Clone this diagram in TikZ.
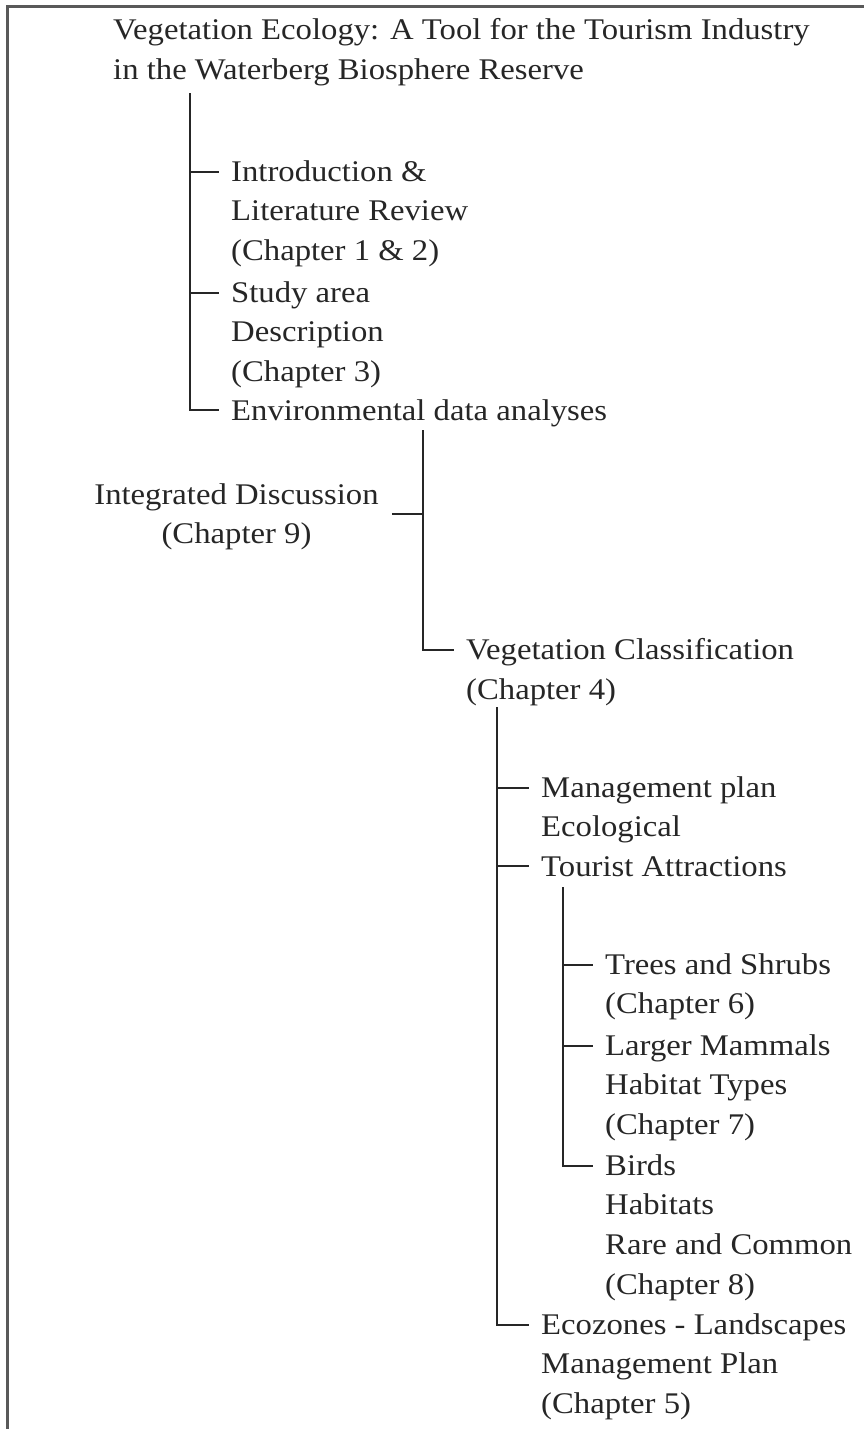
\documentclass[tikz,border=0pt]{standalone}
\usepackage{fontspec}
\newfontfamily\vegefont[FakeStretch=1.09]{Liberation Serif}
\usetikzlibrary{calc}
\tikzset{
    entry/.style={anchor=north west,inner sep=0pt,align=left,text=black!85,
        font=\vegefont\fontsize{30}{39.7}\selectfont,
        execute at begin node={\rule{0pt}{22pt}}},
    branch/.style={draw=black!85,line width=1.8pt},
}
\begin{document}
\begin{tikzpicture}[x=1pt,y=1pt]
    \useasboundingbox (0,0) rectangle (864,-1429);
    \draw[draw=black!65,line width=3pt] (7,-1429) -- (7,-7) -- (864,-7);

    \node[entry] (title) at (113,-18) {Vegetation Ecology: A Tool for the Tourism Industry\\in the Waterberg Biosphere Reserve};
    \node[entry] (intro) at (231,-160) {Introduction \&\\Literature Review\\(Chapter 1 \& 2)};
    \node[entry] (study) at (231,-281) {Study area\\Description\\(Chapter 3)};
    \node[entry] (env) at (231,-398) {Environmental data analyses};
    \node[entry,anchor=north,align=center] (integ) at (236.5,-483) {Integrated Discussion\\(Chapter 9)};
    \node[entry] (veg) at (466,-638) {Vegetation Classification\\(Chapter 4)};
    \node[entry] (mgmt) at (541,-776) {Management plan\\Ecological};
    \node[entry] (tour) at (541,-854) {Tourist Attractions};
    \node[entry] (trees) at (605,-953) {Trees and Shrubs\\(Chapter 6)};
    \node[entry] (mammals) at (605,-1034) {Larger Mammals\\Habitat Types\\(Chapter 7)};
    \node[entry] (birds) at (605,-1154) {Birds\\Habitats\\Rare and Common\\(Chapter 8)};
    \node[entry] (eco) at (541,-1313) {Ecozones - Landscapes\\Management Plan\\(Chapter 5)};

    \coordinate (t1) at ($(title.north west)+(77,-75)$);
    \coordinate (t2) at ($(env.north west)+(192,-32)$);
    \coordinate (t3) at ($(veg.north west)+(31,-69)$);
    \coordinate (t4) at ($(tour.north west)+(22,-33)$);
    \coordinate (integ-out) at ($(integ.north east)+(13,-31)$);
    \foreach \n in {intro,study,env,veg,mgmt,tour,trees,mammals,birds,eco}
        \coordinate (\n-in) at ($(\n.north west)+(-12,-12)$);

    \foreach \n in {intro,study,env}
        \draw[branch] (t1) |- (\n-in);
    \draw[branch] (t2) |- (veg-in);
    \draw[branch] (integ-out) -- (integ-out -| t2);
    \foreach \n in {mgmt,tour,eco}
        \draw[branch] (t3) |- (\n-in);
    \foreach \n in {trees,mammals,birds}
        \draw[branch] (t4) |- (\n-in);
\end{tikzpicture}
\end{document}
